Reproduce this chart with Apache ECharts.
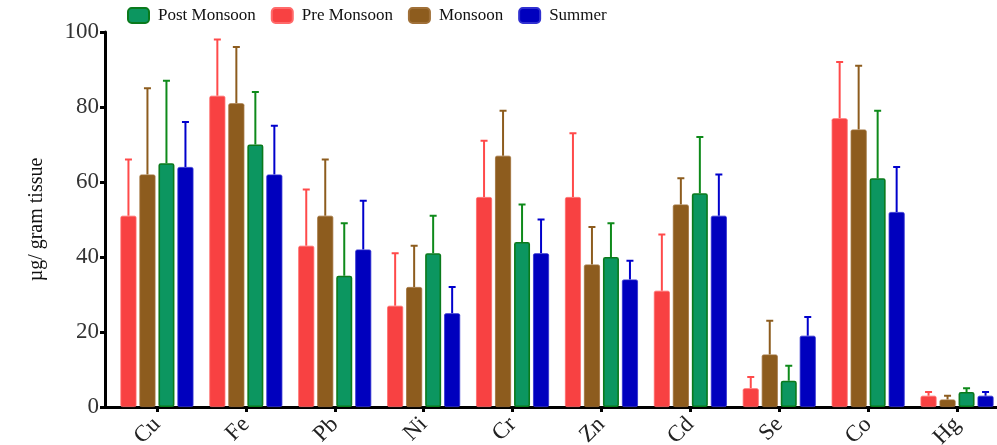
<!DOCTYPE html>
<html>
<head>
<meta charset="utf-8">
<script src="https://cdn.jsdelivr.net/npm/echarts@6/dist/echarts.min.js"></script>
<style>html,body{margin:0;padding:0;background:#fff}#c{width:997px;height:445px}</style>
</head>
<body>
<div id="c"></div>
<script>
const categories = ['Cu','Fe','Pb','Ni','Cr','Zn','Cd','Se','Co','Hg'];
const seriesNames = ['Pre Monsoon','Monsoon','Post Monsoon','Summer'];
const legendOrder = ['Post Monsoon','Pre Monsoon','Monsoon','Summer'];
const preMonsoon   = [51, 83, 43, 27, 56, 56, 31, 5, 77, 3];
const preMonsoonHi = [66, 98, 58, 41, 71, 73, 46, 8, 92, 4];
const monsoon      = [62, 81, 51, 32, 67, 38, 54, 14, 74, 2];
const monsoonHi    = [85, 96, 66, 43, 79, 48, 61, 23, 91, 3];
const postMonsoon  = [65, 70, 35, 41, 44, 40, 57, 7, 61, 4];
const postMonsoonHi= [87, 84, 49, 51, 54, 49, 72, 11, 79, 5];
const summer       = [64, 62, 42, 25, 41, 34, 51, 19, 52, 3];
const summerHi     = [76, 75, 55, 32, 50, 39, 62, 24, 64, 4];
const yTicks = [0, 20, 40, 60, 80, 100];

const values = [preMonsoon, monsoon, postMonsoon, summer];
const highs = [preMonsoonHi, monsoonHi, postMonsoonHi, summerHi];
const fills = ['#F84142', '#8D5C1E', '#0C9660', '#0000BE'];
const borders = ['#FF6A6A', '#A07038', '#0A7A1C', '#3030D0'];
const errColors = ['#FF4A4A', '#8D5C1E', '#0E8A1A', '#0000CC'];
const BAR_W = 16, BAR_GAP = 3;
const serif = 'Liberation Serif';

const series = [];
seriesNames.forEach((name, i) => {
  series.push({
    name: name, type: 'bar', xAxisIndex: 0, yAxisIndex: 0,
    barWidth: BAR_W, barGap: (BAR_GAP / BAR_W * 100) + '%',
    data: values[i],
    itemStyle: { color: fills[i], borderColor: borders[i], borderWidth: i === 2 ? 1.6 : 0.8, borderRadius: 1.5 },
    z: 2
  });
});
seriesNames.forEach((name, i) => {
  const offset = (i - 1.5) * (BAR_W + BAR_GAP);
  series.push({
    name: name + ' err', type: 'custom', xAxisIndex: 0, yAxisIndex: 0, z: 1,
    data: categories.map((c, k) => [k, values[i][k], highs[i][k]]),
    renderItem: function (params, api) {
      const base = api.coord([api.value(0), api.value(1)]);
      const top = api.coord([api.value(0), api.value(2)]);
      const x = base[0] + offset;
      const st = { stroke: errColors[i], lineWidth: 2 };
      return { type: 'group', children: [
        { type: 'line', shape: { x1: x, y1: base[1], x2: x, y2: top[1] }, style: st },
        { type: 'line', shape: { x1: x - 3.5, y1: top[1], x2: x + 3.5, y2: top[1] }, style: st }
      ]};
    }
  });
});

const chart = echarts.init(document.getElementById('c'), null, { renderer: 'canvas' });
chart.setOption({
  animation: false,
  backgroundColor: '#ffffff',
  color: fills,
  legend: {
    data: legendOrder, top: 7, left: 127, padding: 0,
    itemWidth: 21, itemHeight: 15, itemGap: 15, icon: 'roundRect',
    textStyle: { fontFamily: serif, fontSize: 17, color: '#111', padding: [0, 0, 0, 4] }
  },
  grid: [
    { left: 112.5, right: -4.5, top: 32, bottom: 38, outerBoundsMode: 'none', containLabel: false },
    { left: 105, right: 0, top: 32, bottom: 38, outerBoundsMode: 'none', containLabel: false }
  ],
  xAxis: [
    { type: 'category', gridIndex: 0, data: categories,
      axisLine: { show: false },
      axisTick: { show: true, alignWithLabel: true, length: 5, lineStyle: { color: '#000', width: 3 } },
      axisLabel: { rotate: 45, margin: 14, fontFamily: serif, fontSize: 23, color: '#222' } },
    { type: 'value', gridIndex: 1, min: 0, max: 1,
      axisLine: { show: true, onZero: false, lineStyle: { color: '#000', width: 3 } },
      axisTick: { show: false }, axisLabel: { show: false }, splitLine: { show: false } }
  ],
  yAxis: [
    { type: 'value', gridIndex: 0, min: 0, max: 100, interval: 20, show: false },
    { type: 'value', gridIndex: 1, min: yTicks[0], max: yTicks[yTicks.length - 1], interval: 20,
      name: 'µg/ gram tissue', nameLocation: 'middle', nameGap: 58,
      nameTextStyle: { fontFamily: serif, fontSize: 20, color: '#111' },
      axisLine: { show: true, lineStyle: { color: '#000', width: 3 } },
      axisTick: { show: true, length: 5, lineStyle: { color: '#000', width: 3 } },
      axisLabel: { fontFamily: serif, fontSize: 23, color: '#333', margin: 6 },
      splitLine: { show: false } }
  ],
  series: series
});
</script>
</body>
</html>
